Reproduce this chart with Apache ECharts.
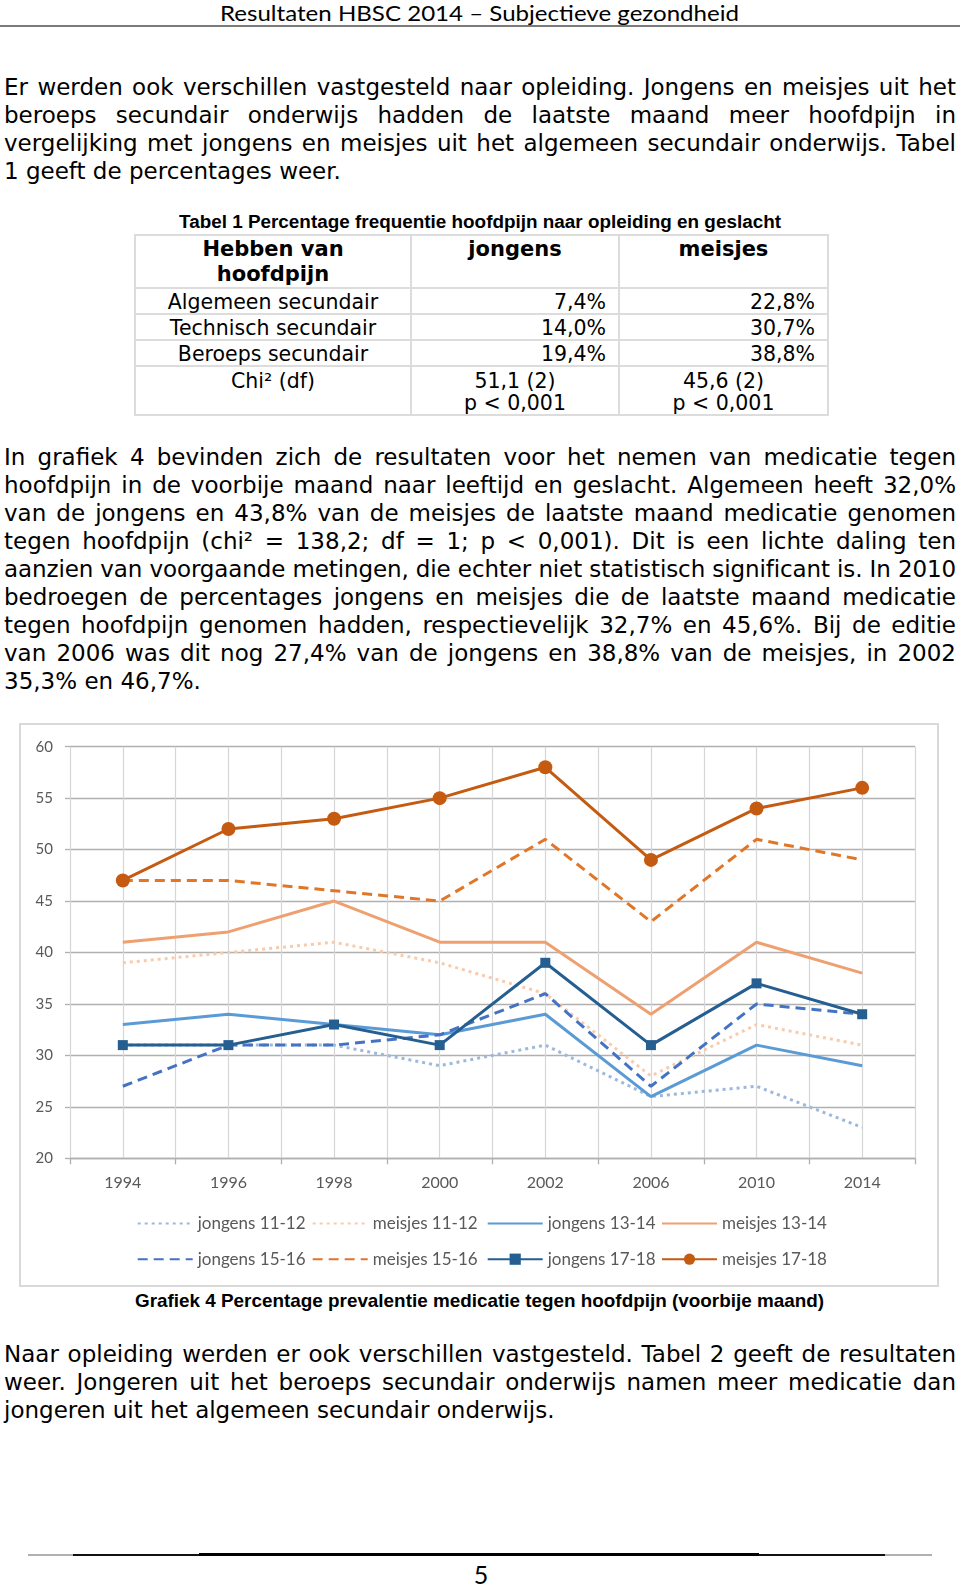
<!DOCTYPE html>
<html>
<head>
<meta charset="utf-8">
<script src="https://cdn.jsdelivr.net/npm/echarts@6/dist/echarts.min.js"></script>
<style>
  html,body{margin:0;padding:0;background:#fff;}
  body{width:960px;height:1585px;position:relative;overflow:hidden;font-family:"DejaVu Sans",Verdana,sans-serif;color:#000;}
  .abs{position:absolute;}
  .jl{position:absolute;left:4px;white-space:nowrap;font-size:23px;line-height:28px;height:28px;}
  .fw{position:absolute;white-space:nowrap;transform-origin:0 50%;}
  table.t1{position:absolute;left:134px;top:234px;border-collapse:collapse;table-layout:fixed;font-family:"DejaVu Sans",sans-serif;}
  table.t1 td{border:2px solid #dcdcdc;padding:0;font-size:20.5px;line-height:22px;vertical-align:top;}
  table.t1 tr.h td{font-weight:bold;font-size:21px;line-height:25px;vertical-align:top;padding-top:1px;text-align:center;}
  table.t1 td.c{text-align:center;padding-top:2px;}
  table.t1 td.r{text-align:right;padding-right:12px;padding-top:2px;}
  table.t1 tr.chi td{vertical-align:top;line-height:22px;padding-top:3px;text-align:center;}
</style>
</head>
<body>
<script>
// ---- chart data ----
const years = ['1994','1996','1998','2000','2002','2006','2010','2014'];
const jongens1112 = [31, 31, 31, 29, 31, 26, 27, 23];
const meisjes1112 = [39, 40, 41, 39, 36, 28, 33, 31];
const jongens1314 = [33, 34, 33, 32, 34, 26, 31, 29];
const meisjes1314 = [41, 42, 45, 41, 41, 34, 41, 38];
const jongens1516 = [27, 31, 31, 32, 36, 27, 35, 34];
const meisjes1516 = [47, 47, 46, 45, 51, 43, 51, 49];
const jongens1718 = [31, 31, 33, 31, 39, 31, 37, 34];
const meisjes1718 = [47, 52, 53, 55, 58, 49, 54, 56];
const yMin = 20, yMax = 60, yStep = 5;
const seriesNames = ['jongens 11-12','meisjes 11-12','jongens 13-14','meisjes 13-14',
                     'jongens 15-16','meisjes 15-16','jongens 17-18','meisjes 17-18'];
</script>

<!-- header -->
<div class="fw" id="hdr" data-w="519" style="left:220px;top:1px;font-family:Lato,sans-serif;font-size:22px;line-height:24px;color:#000;">Resultaten HBSC 2014 – Subjectieve gezondheid</div>
<div class="abs" style="left:0;top:25px;width:960px;height:2px;background:#7a7a7a;"></div>

<!-- paragraph 1 -->
<div class="jl" style="top:73px">Er werden ook verschillen vastgesteld naar opleiding. Jongens en meisjes uit het</div>
<div class="jl" style="top:101px">beroeps secundair onderwijs hadden de laatste maand meer hoofdpijn in</div>
<div class="jl" style="top:129px">vergelijking met jongens en meisjes uit het algemeen secundair onderwijs. Tabel</div>
<div class="jl nl" style="top:157px">1 geeft de percentages weer.</div>

<!-- table 1 -->
<div class="fw" data-w="602" style="left:179px;top:212px;font-family:'Liberation Sans Narrow','Liberation Sans',Arial,sans-serif;font-weight:bold;font-size:18px;line-height:20px;">Tabel 1 Percentage frequentie hoofdpijn naar opleiding en geslacht</div>
<table class="t1">
  <colgroup><col style="width:276px"><col style="width:208px"><col style="width:209px"></colgroup>
  <tr class="h"><td style="height:50px">Hebben van<br>hoofdpijn</td><td>jongens</td><td>meisjes</td></tr>
  <tr><td class="c" style="height:22px">Algemeen secundair</td><td class="r">7,4%</td><td class="r">22,8%</td></tr>
  <tr><td class="c" style="height:22px">Technisch secundair</td><td class="r">14,0%</td><td class="r">30,7%</td></tr>
  <tr><td class="c" style="height:22px">Beroeps secundair</td><td class="r">19,4%</td><td class="r">38,8%</td></tr>
  <tr class="chi"><td style="height:42px">Chi² (df)</td><td>51,1 (2)<br>p &lt; 0,001</td><td>45,6 (2)<br>p &lt; 0,001</td></tr>
</table>

<!-- paragraph 2 -->
<div class="jl" style="top:443px">In grafiek 4 bevinden zich de resultaten voor het nemen van medicatie tegen</div>
<div class="jl" style="top:471px">hoofdpijn in de voorbije maand naar leeftijd en geslacht. Algemeen heeft 32,0%</div>
<div class="jl" style="top:499px">van de jongens en 43,8% van de meisjes de laatste maand medicatie genomen</div>
<div class="jl" style="top:527px">tegen hoofdpijn (chi² = 138,2; df = 1; p &lt; 0,001). Dit is een lichte daling ten</div>
<div class="jl" style="top:555px">aanzien van voorgaande metingen, die echter niet statistisch significant is. In 2010</div>
<div class="jl" style="top:583px">bedroegen de percentages jongens en meisjes die de laatste maand medicatie</div>
<div class="jl" style="top:611px">tegen hoofdpijn genomen hadden, respectievelijk 32,7% en 45,6%. Bij de editie</div>
<div class="jl" style="top:639px">van 2006 was dit nog 27,4% van de jongens en 38,8% van de meisjes, in 2002</div>
<div class="jl nl" style="top:667px">35,3% en 46,7%.</div>

<!-- chart -->
<div class="abs" style="left:19px;top:723px;width:920px;height:564px;box-sizing:border-box;border:2px solid #d9d9d9;"></div>
<div id="chart" class="abs" style="left:19px;top:723px;width:920px;height:564px;"></div>
<div class="fw" data-w="689" style="left:135px;top:1290px;font-family:'Liberation Sans Narrow','Liberation Sans',Arial,sans-serif;font-weight:bold;font-size:19px;line-height:21px;">Grafiek 4 Percentage prevalentie medicatie tegen hoofdpijn (voorbije maand)</div>

<!-- paragraph 3 -->
<div class="jl" style="top:1340px">Naar opleiding werden er ook verschillen vastgesteld. Tabel 2 geeft de resultaten</div>
<div class="jl" style="top:1368px">weer. Jongeren uit het beroeps secundair onderwijs namen meer medicatie dan</div>
<div class="jl nl" style="top:1396px">jongeren uit het algemeen secundair onderwijs.</div>

<!-- footer -->
<div class="abs" style="left:28px;top:1554px;width:904px;height:2px;background:#b0b0b0;"></div>
<div class="abs" style="left:73px;top:1554px;width:812px;height:2px;background:#111;"></div>
<div class="abs" style="left:199px;top:1553px;width:560px;height:3px;background:#000;"></div>
<div class="abs" style="left:0;top:1560px;width:962px;text-align:center;font-family:Lato,sans-serif;font-size:25px;line-height:28px;">5</div>

<script>
// justify lines
document.querySelectorAll('.jl').forEach(el => {
  if (el.classList.contains('nl')) return;
  const target = 952;
  const w = el.getBoundingClientRect().width;
  const spaces = (el.textContent.match(/ /g) || []).length;
  const diff = target - w;
  if (diff >= 0) el.style.wordSpacing = (diff / spaces) + 'px';
  else el.style.letterSpacing = (diff / el.textContent.length) + 'px';
});
// fit-width texts
document.querySelectorAll('.fw').forEach(el => {
  const target = +el.dataset.w;
  const w = el.getBoundingClientRect().width;
  el.style.transform = 'scaleX(' + (target / w) + ')';
});

const colors = ['#9DB8DC','#F8CBAD','#5B9BD5','#EFA070','#4472C4','#E07628','#255E91','#C55A11'];
const dataArr = [jongens1112, meisjes1112, jongens1314, meisjes1314, jongens1516, meisjes1516, jongens1718, meisjes1718];
const lineTypes = [[3,4],[3,4],'solid','solid',[10,6],[10,6],'solid','solid'];
const symbols = ['none','none','none','none','none','none','rect','circle'];
const symSizes = [0,0,0,0,0,0,10,14];

const series = seriesNames.map((n, i) => ({
  name: n,
  type: 'line',
  xAxisIndex: 0,
  yAxisIndex: 0,
  data: dataArr[i],
  symbol: symbols[i],
  symbolSize: symSizes[i],
  showSymbol: symbols[i] !== 'none',
  color: colors[i],
  itemStyle: {color: colors[i]},
  lineStyle: {color: colors[i], width: 3, type: lineTypes[i], cap: 'butt'},
  animation: false,
  silent: true
}));

const legendLeft = [117.7, 292.7, 467.7, 642];
const legendRowY = [502, 537.7];
const legends = seriesNames.map((n, i) => ({
  data: [n],
  left: legendLeft[i % 4],
  top: legendRowY[Math.floor(i / 4)] - 10,
  padding: 0,
  itemWidth: 55,
  itemHeight: 14,
  itemGap: 0,
  selectedMode: false,
  itemStyle: symbols[i] === 'none' ? {opacity: 0} : {},
  textStyle: {fontFamily: 'Lato, sans-serif', fontSize: 17, color: '#595959'}
}));

const chart = echarts.init(document.getElementById('chart'), null, {renderer: 'canvas'});
chart.setOption({
  animation: false,
  grid: {left: 51, right: 24, top: 23.7, bottom: 128.7, containLabel: false},
  legend: legends,
  xAxis: [
    {
      type: 'category',
      data: years,
      boundaryGap: true,
      position: 'bottom',
      axisLine: {show: true, lineStyle: {color: '#b0b0b0', width: 1.3}},
      axisTick: {show: true, length: 6, interval: 0, lineStyle: {color: '#b0b0b0', width: 1.3}},
      axisLabel: {margin: 17, fontFamily: 'Lato, sans-serif', fontSize: 16, color: '#595959', interval: 0},
      splitLine: {show: false}
    },
    {
      type: 'value',
      min: 0, max: 16, interval: 1,
      position: 'top',
      axisLine: {show: false}, axisTick: {show: false}, axisLabel: {show: false},
      splitLine: {show: true, lineStyle: {color: '#d6d6d6', width: 1.2}}
    }
  ],
  yAxis: {
    type: 'value',
    min: yMin, max: yMax, interval: yStep,
    axisLine: {show: false},
    axisTick: {show: true, length: 5, lineStyle: {color: '#b0b0b0', width: 1.3}},
    axisLabel: {margin: 17, fontFamily: 'Lato, sans-serif', fontSize: 15, color: '#595959'},
    splitLine: {show: true, lineStyle: {color: '#b0b0b0', width: 1.3}}
  },
  series: series
});
</script>
</body>
</html>
